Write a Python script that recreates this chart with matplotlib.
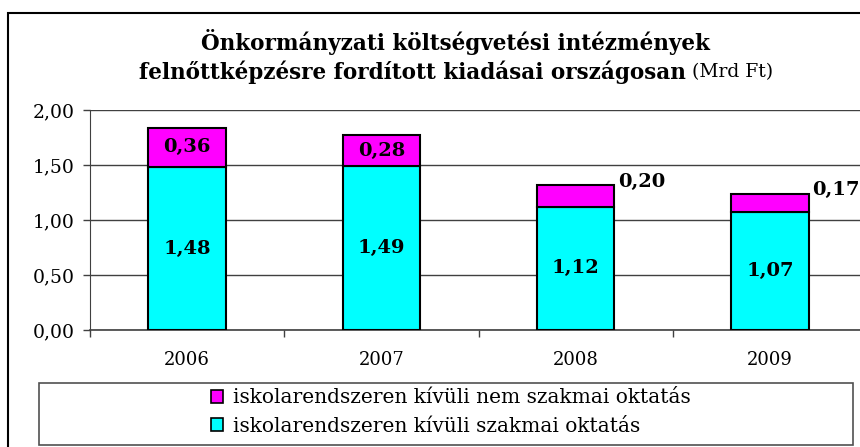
import numpy as np
import matplotlib
matplotlib.use("Agg")
import matplotlib.pyplot as plt
from matplotlib.patches import Rectangle, Patch

# data (Mrd Ft)
years = ["2006", "2007", "2008", "2009"]
szakmai = [1.48, 1.49, 1.12, 1.07]
nem_szakmai = [0.36, 0.28, 0.20, 0.17]
label_szakmai = "iskolarendszeren kívüli szakmai oktatás"
label_nem = "iskolarendszeren kívüli nem szakmai oktatás"
title_line1 = "Önkormányzati költségvetési intézmények"
title_line2 = "felnőttképzésre fordított kiadásai országosan"
title_unit = "(Mrd Ft)"

CYAN = "#00FFFF"
MAGENTA = "#FF00FF"
FONT = "DejaVu Serif"

W, H = 860, 447
fig = plt.figure(figsize=(W / 100, H / 100), dpi=100)
fig.patch.set_facecolor("white")

# axes placed in pixel terms (right edge runs off the picture like the original)
left, right, top, bottom = 90, 867, 110, 330
ax = fig.add_axes([left / W, 1 - bottom / H, (right - left) / W, (bottom - top) / H])

x = np.arange(len(years))
bar_w = 0.40
ax.bar(x, szakmai, bar_w, color=CYAN, edgecolor="black", linewidth=1.5, zorder=3)
ax.bar(x, nem_szakmai, bar_w, bottom=szakmai, color=MAGENTA, edgecolor="black",
       linewidth=1.5, zorder=3)

def fmt(v):
    return f"{v:.2f}".replace(".", ",")

for i in range(len(years)):
    ax.text(x[i], szakmai[i] / 2, fmt(szakmai[i]), ha="center", va="center",
            fontsize=14, fontweight="bold", family=FONT, zorder=4)
    tot = szakmai[i] + nem_szakmai[i]
    if nem_szakmai[i] >= 0.25:
        ax.text(x[i], szakmai[i] + nem_szakmai[i] / 2, fmt(nem_szakmai[i]),
                ha="center", va="center", fontsize=14, fontweight="bold",
                family=FONT, zorder=4)
    else:
        # small top segments get their label beside the bar
        ax.text(x[i] + bar_w / 2 + 0.02, tot + 0.03, fmt(nem_szakmai[i]),
                ha="left", va="center", fontsize=14, fontweight="bold",
                family=FONT, zorder=4)

ax.set_xlim(-0.5, len(years) - 0.5)
ax.set_ylim(0, 2.0)
yt = np.arange(0, 2.01, 0.5)
ax.set_yticks(yt)
ax.set_yticklabels([fmt(v) for v in yt], family=FONT, fontsize=13.5)
ax.set_xticks(x)
ax.set_xticklabels(years, family=FONT, fontsize=13)
ax.set_xticks(np.arange(-0.5, len(years), 1.0), minor=True)
ax.tick_params(axis="x", which="major", length=0, pad=15)
ax.tick_params(axis="x", which="minor", length=5, width=1, color="#404040", direction="out")
ax.tick_params(axis="y", length=5, width=1, color="#404040", pad=6)

ax.grid(axis="y", color="#404040", linewidth=1, zorder=0)
ax.set_axisbelow(True)
for s in ["top", "right"]:
    ax.spines[s].set_visible(False)
ax.spines["left"].set_color("#404040")
ax.spines["bottom"].set_color("#404040")
ax.spines["bottom"].set_linewidth(1.2)

# title
fig.text(455 / W, 1 - 42 / H, title_line1, ha="center", va="center",
         fontsize=15.5, fontweight="bold", family=FONT)
fig.text(686 / W, 1 - 72 / H, title_line2, ha="right", va="center",
         fontsize=15.5, fontweight="bold", family=FONT)
fig.text(692 / W, 1 - 72 / H, title_unit, ha="left", va="center",
         fontsize=13.5, family=FONT)

# outer chart border, running off the picture on the right and bottom
fig.patches.append(Rectangle((8 / W, -0.1), 1.2, 1 - 13 / H + 0.1,
                             transform=fig.transFigure, fill=False,
                             edgecolor="black", linewidth=1.5))

# legend box
fig.patches.append(Rectangle((39 / W, 1 - 445 / H), (853 - 39) / W, 62 / H,
                             transform=fig.transFigure, fill=False,
                             edgecolor="#505050", linewidth=1.2))
handles = [Patch(facecolor=MAGENTA, edgecolor="black", linewidth=1.2, label=label_nem),
           Patch(facecolor=CYAN, edgecolor="black", linewidth=1.2, label=label_szakmai)]
fig.legend(handles=handles, loc="center", bbox_to_anchor=(451 / W, 1 - 412 / H),
           frameon=False, prop={"family": FONT, "size": 14.5},
           handlelength=0.6, handleheight=0.6, handletextpad=0.5, labelspacing=0.45,
           borderpad=0)

fig.savefig("out.png", dpi=100)
